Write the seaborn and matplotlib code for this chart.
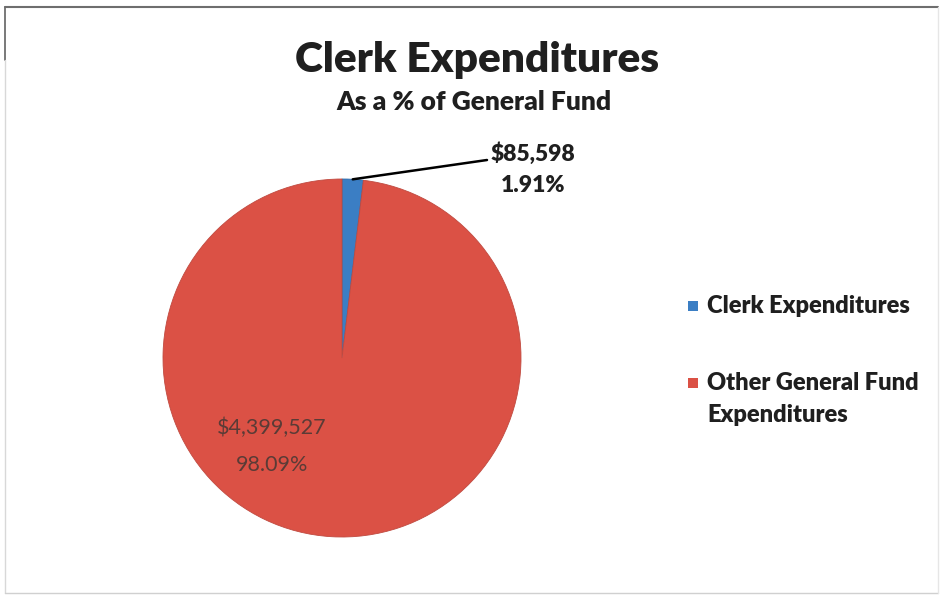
import numpy as np
import matplotlib
matplotlib.use("Agg")
import matplotlib.pyplot as plt
import seaborn as sns
from matplotlib.patches import Rectangle

categories = ["Clerk Expenditures", "Other General Fund\nExpenditures"]
values = [85598, 4399527]
pct_labels = ["1.91%", "98.09%"]
value_labels = ["$85,598", "$4,399,527"]
title = "Clerk Expenditures"
subtitle = "As a % of General Fund"

sns.set_theme(style="white")
plt.rcParams['font.family'] = ['Lato', 'DejaVu Sans']
colors = ["#3B7EC4", "#DB5145"]

W, H = 940, 597
fig = plt.figure(figsize=(W / 100, H / 100), dpi=100)
ax = fig.add_axes([0, 0, 1, 1])

cx, cy, r = 342, H - 358, 179
wedges, _ = ax.pie(values, colors=colors, startangle=90, counterclock=False,
                   center=(cx, cy), radius=r,
                   wedgeprops=dict(linewidth=0.6, edgecolor="#c04a40"))
wedges[0].set_edgecolor("#2f6aa8")
ax.set_xlim(0, W)
ax.set_ylim(0, H)
ax.set_aspect("equal")
ax.axis("off")

# frame
ax.plot([5, W - 2], [H - 7, H - 7], color="#6e6e6e", lw=1.5)
ax.plot([5, 5], [H - 7, H - 60], color="#6e6e6e", lw=1.3)
ax.plot([5, 5], [H - 60, 4], color="#d8d8d8", lw=1.0)
ax.plot([5, W - 2], [4, 4], color="#d0d0d0", lw=1.0)
ax.plot([W - 2, W - 2], [4, H - 7], color="#e6e6e6", lw=1.0)

BOLD = "heavy"
TXT = "#1f1f1f"

# title
ax.text(477, H - 60, title, ha="center", va="center", fontsize=30.5,
        fontweight=BOLD, color=TXT)
ax.text(474, H - 102, subtitle, ha="center", va="center", fontsize=19,
        fontweight=BOLD, color=TXT)

# clerk label with leader line
w0 = wedges[0]
mid = np.deg2rad((w0.theta1 + w0.theta2) / 2)
sx, sy = cx + r * np.cos(mid), cy + r * np.sin(mid)
ax.plot([sx, 487], [sy, H - 160], color="black", lw=1.8)
ax.text(533, H - 154, value_labels[0], ha="center", va="center", fontsize=16.5,
        fontweight=BOLD, color=TXT)
ax.text(533, H - 186, pct_labels[0], ha="center", va="center", fontsize=16.5,
        fontweight=BOLD, color=TXT)

# other label inside
ax.text(272, H - 428, value_labels[1], ha="center", va="center", fontsize=15.5,
        color="#5a3b36")
ax.text(272, H - 465, pct_labels[1], ha="center", va="center", fontsize=15.5,
        color="#5a3b36")

# legend
leg_y = [306, 383]
for i in range(len(categories)):
    ax.add_patch(Rectangle((688, H - leg_y[i] - 5), 10, 10, color=colors[i], lw=0))

ax.text(707, H - 306, categories[0], ha="left", va="center", fontsize=17,
        fontweight=BOLD, color=TXT)
lines = categories[1].split("\n")
ax.text(707, H - 383, lines[0], ha="left", va="center", fontsize=17,
        fontweight=BOLD, color=TXT)
ax.text(707, H - 415, lines[1], ha="left", va="center", fontsize=17,
        fontweight=BOLD, color=TXT)

fig.savefig("out.png", dpi=100)
